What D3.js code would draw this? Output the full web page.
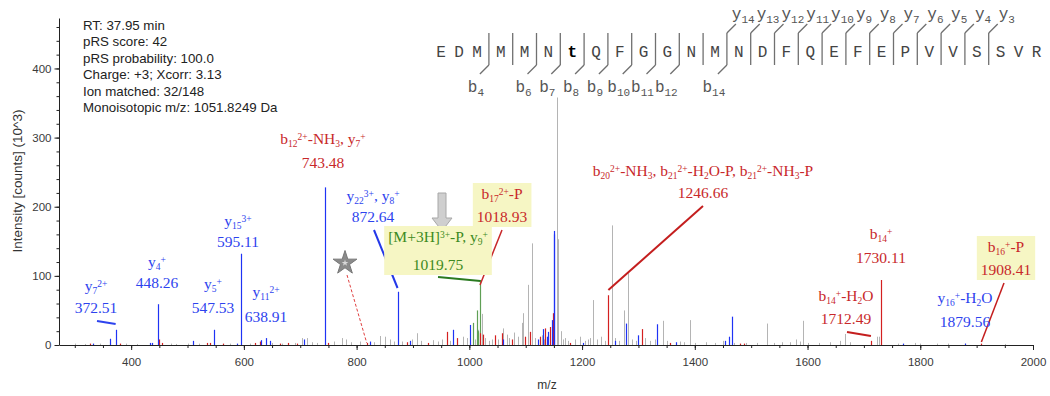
<!DOCTYPE html>
<html>
<head>
<meta charset="UTF-8">
<style>
  body { margin: 0; background: #fff; }
  svg { display: block; font-family: "Liberation Sans", Arial, sans-serif; }
  .ann { font-family: "Liberation Serif", "Times New Roman", serif; font-size: 15.5px; }
  .seq { font-family: "Liberation Mono", "Courier New", monospace; }
  .tick text { fill: #3a3a3a; font-size: 11.5px; font-family: "Liberation Sans", Arial, sans-serif; }
</style>
</head>
<body>
<svg></svg>
<script src="https://d3js.org/d3.v7.min.js"></script>
<script>

let width = 1050, height = 396;

// ---- data ----
const infoLines = ["RT: 37.95 min", "pRS score: 42", "pRS probability: 100.0",
  "Charge: +3; Xcorr: 3.13", "Ion matched: 32/148", "Monoisotopic m/z: 1051.8249 Da"];

const seqLetters = "EDMMMNtQFGGNMNDFQEFEPVVSSVR".split("");
const barsAfter = d3.range(3, 25);          // fragment markers after residue n
const bIons = [4, 6, 7, 8, 9, 10, 11, 12, 14];
const yIons = [14, 13, 12, 11, 10, 9, 8, 7, 6, 5, 4, 3];

// [m/z, intensity (10^3)]
const grayPeaks = [[300,2],[318,1.5],[345,2],[390,2],[410,1.5],[470,2],[480,1.5],[500,2],[520,2],[575,2],
  [610,2],[650,3],[668,2],[690,3],[702.5,10],[711.4,10],[720,4],[730,3],[744,84],[749,3],[760,5],[773.5,10],
  [782,8],[790,4],[806,5],[830,4],[841.5,13],[850,12],[859,8],[866,5],[874,30],[880,5],[897.7,8],[906.6,17],
  [915,6],[935.5,7],[945,5],[952,8],[966,6],[988.7,12],[996,10],[1001,25],[1010,8],[1016,22],[1022,45],
  [1027,10],[1035,6],[1039.6,8],[1045,12],[1050,8],[1060,24],[1066,15],[1070,10],[1080,18],[1086,12],
  [1092.8,32],[1095.7,46],[1104,87],[1111.6,147],[1116,10],[1128.3,14],[1133,8],[1155,358],[1157.8,153],
  [1162,20],[1166,8],[1169.6,10],[1175,6],[1187.4,8],[1196.3,12],[1205,6],[1210,8],[1214,10],[1219.9,65],
  [1226,8],[1233.5,12],[1240,6],[1252.5,173],[1258,10],[1265,6],[1274.3,50],[1281.4,104],[1288,8],[1295,6],
  [1312,10],[1320,6],[1329,8],[1343.5,35],[1350,6],[1373.7,5],[1380,4],[1391.4,36],[1400,3],[1420,4],
  [1435,3],[1450,6],[1470,3],[1490,3],[1510,3],[1528,31],[1540,3],[1555,4],[1568,4],[1580,8],[1586,5],
  [1592,35],[1600,3],[1620,3],[1640,4],[1657,6],[1666,16],[1675,4],[1722.6,12],[1726.7,12],[1760,2],
  [1790,3],[1800,2],[1830,2],[1850,2],[1880,2],[1950,1.5]];

const bluePeaks = [[332,2],[362.5,9],[372.51,22],[433,3],[436.5,3],[448.26,59],[510,6],[547.53,22],[587,2],
  [595.11,132],[629.8,7],[638.91,10],[646,6],[706.6,8],[743.48,228],[823.7,5],[872.64,77],[894.7,6],
  [971,22],[1001.1,29],[1060,8],[1121.7,8],[1131.2,23],[1137.2,12],[1139.5,19],[1146,36],[1149.4,160],
  [1150.1,165],[1201.6,3],[1258.3,6],[1277.3,31],[1299.1,14],[1332.9,30],[1366.6,4],[1453.5,6],[1460.6,12],
  [1465.4,41],[1769,2],[1879.56,2]];

const redPeaks = [[327,2],[380,2],[450,8],[454,3],[534,3],[540,3],[563,2],[619.7,3],[628.6,5],[664,2],
  [678,3],[693.7,2],[749.2,3],[818,3],[888.8,4],[926.6,3],[959.8,19],[977.6,10],[1018.93,17],[1024.7,15],
  [1045,14],[1057.3,17],[1075.1,8],[1098.7,12],[1107,19],[1125.3,12],[1134.2,24],[1143,26],[1147.8,46],
  [1178.5,3],[1246.66,72],[1305.7,23],[1356,3],[1480,2],[1488,2],[1712.49,6],[1730.11,94],[1908.41,2]];

const greenPeaks = [[1006.4,32],[1013,50],[1016,20],[1019.75,94]];

// annotated ions
const annIons = ["y_{7}^{2+}", "y_{4}^{+}", "y_{5}^{+}", "y_{15}^{3+}", "y_{11}^{2+}",
  "b_{12}^{2+}-NH_{3}, y_{7}^{+}", "y_{22}^{3+}, y_{8}^{+}", "[M+3H]^{3+}-P, y_{9}^{+}", "b_{17}^{2+}-P",
  "b_{20}^{2+}-NH_{3}, b_{21}^{2+}-H_{2}O-P, b_{21}^{2+}-NH_{3}-P", "b_{14}^{+}", "b_{14}^{+}-H_{2}O",
  "y_{16}^{+}-H_{2}O", "b_{16}^{+}-P"];
const annMz = ["372.51", "448.26", "547.53", "595.11", "638.91", "743.48", "872.64", "1019.75", "1018.93",
  "1246.66", "1730.11", "1712.49", "1879.56", "1908.41"];
const annType = ["y", "y", "y", "y", "y", "b", "y", "p", "b", "b", "b", "b", "y", "b"];

// ---- layout ----
const annLayout = [[96,287,308],[157,263,283],[213,285,308],[238,222,242],[266,293,317],[323,140,163],
  [373,197,217],[438,238,265,1],[502,195,217,1],[703,172,193],[881,235,258],[846,297,319],[965,299,322],
  [1006,248,270,1]];
const typeColor = { y: "#2d43ee", b: "#c8282a", p: "#3d8a22" };

let svg = d3.select("svg").attr("width", width).attr("height", height);

let x = d3.scaleLinear().domain([272, 2000]).range([59, 1033]);
let y = d3.scaleLinear().domain([0, 473]).range([345, 18]);

// info block
svg.append("g").selectAll("text").data(infoLines).join("text")
  .attr("x", 83).attr("y", (d, i) => 29.5 + i * 16.5)
  .attr("font-size", 13.3).attr("fill", "#222").text(d => d);

// axes
svg.append("g").attr("transform", "translate(0,345)")
  .call(d3.axisBottom(x).tickValues(d3.range(300, 2001, 50)).tickSize(3).tickFormat(""))
  .call(g => g.select(".domain").remove());
svg.append("g").attr("transform", "translate(0,345)")
  .call(d3.axisBottom(x).tickValues(d3.range(400, 2001, 200)).tickSize(5).tickSizeOuter(0)
    .tickPadding(8).tickFormat(d3.format("d")));
svg.append("g").attr("transform", "translate(59,0)")
  .call(d3.axisLeft(y).tickValues(d3.range(0, 461, 20)).tickSize(2.5).tickFormat(""))
  .call(g => g.select(".domain").remove());
svg.append("g").attr("transform", "translate(59,0)")
  .call(d3.axisLeft(y).tickValues(d3.range(0, 401, 100)).tickSize(4.5).tickSizeOuter(0).tickPadding(3));
svg.selectAll(".domain, .tick line").attr("stroke", "#222");

svg.append("text").attr("x", 547).attr("y", 389).attr("text-anchor", "middle")
  .attr("font-size", 12).attr("fill", "#333").text("m/z");
svg.append("text").attr("transform", "translate(22,181) rotate(-90)").attr("text-anchor", "middle")
  .attr("font-size", 13.5).attr("fill", "#333").text("Intensity [counts] (10^3)");

// peaks
function drawPeaks(data, color, w) {
  svg.append("g").selectAll("line").data(data).join("line")
    .attr("x1", d => Math.round(x(d[0])) + 0.5).attr("x2", d => Math.round(x(d[0])) + 0.5)
    .attr("y1", y(0)).attr("y2", d => y(d[1]))
    .attr("stroke", color).attr("stroke-width", w);
}
drawPeaks(grayPeaks, "#b4b4b4", 1);
drawPeaks(greenPeaks, "#5f9f55", 1.2);
drawPeaks(redPeaks, "#d42020", 1.2);
drawPeaks(bluePeaks, "#1f33f5", 1.2);

// leader lines: start in px, end at peak m/z
const leaders = [
  { from: [97, 321], mz: 372.51, to: 324, c: typeColor.y, w: 2 },
  { from: [374, 230], mz: 872.64, to: 288, c: "#2438e8", w: 2 },
  { from: [502, 230], mz: 1018.93, to: 285, c: typeColor.b, w: 1.5 },
  { from: [347, 275], mz: 818, to: 343, c: "#e04040", w: 1, dash: "3,2" },
  { from: [703, 206], mz: 1246.66, to: 290, c: "#c41e1e", w: 2 },
  { from: [847, 332], mz: 1712.49, to: 336, c: "#c41e1e", w: 2 },
  { from: [1004, 283], mz: 1908.41, to: 342, c: "#c41e1e", w: 1.5 }
];
svg.append("g").selectAll("line").data(leaders).join("line")
  .attr("x1", d => d.from[0]).attr("y1", d => d.from[1])
  .attr("x2", d => x(d.mz)).attr("y2", d => d.to)
  .attr("stroke", d => d.c).attr("stroke-width", d => d.w)
  .attr("stroke-dasharray", d => d.dash || null);

// star marker
svg.append("path").attr("d", d3.symbol(d3.symbolStar, 175)())
  .attr("transform", "translate(345,263)").attr("fill", "#8a8a8a").attr("stroke", "#777");
svg.append("path").attr("d", d3.symbol(d3.symbolStar, 14)())
  .attr("transform", "translate(345,263)").attr("fill", "#d8d8d8");

// down arrow
svg.append("path").attr("d", "M438,193 L446,193 L446,218 L452,218 L442,231 L432,218 L438,218 Z")
  .attr("fill", "#cfcfcf").attr("stroke", "#a8a8a8");

// rich text: _{sub} ^{sup}
function rich(t, str, small, sub, sup) {
  let off = 0;
  str.split(/(_\{[^}]*\}|\^\{[^}]*\})/).filter(s => s).forEach(s => {
    let target = 0, txt = s, fs = null;
    if (s.startsWith("_{")) { target = sub; txt = s.slice(2, -1); fs = small; }
    else if (s.startsWith("^{")) { target = -sup; txt = s.slice(2, -1); fs = small; }
    let ts = t.append("tspan").attr("dy", target - off).text(txt);
    if (fs) ts.attr("font-size", fs);
    off = target;
  });
}

// annotation labels
let annG = svg.append("g");
annIons.forEach((ion, i) => {
  let L = annLayout[i], col = typeColor[annType[i]];
  let g = annG.append("g").attr("class", "ann").attr("fill", col).attr("text-anchor", "middle");
  let t1 = g.append("text").attr("x", L[0]).attr("y", L[1] + 4);
  rich(t1, ion, 9.5, 3, 4);
  g.append("text").attr("x", L[0]).attr("y", L[2] + 5).text(annMz[i]);
  if (L[3]) {
    let bb = g.node().getBBox();
    g.insert("rect", "text").attr("x", bb.x - 4).attr("y", bb.y - 2)
      .attr("width", bb.width + 8).attr("height", bb.height + 4).attr("fill", "#f6f6c4");
  }
});
// green leader sits on top of the precursor box
svg.append("line").attr("x1", 438).attr("y1", 277).attr("x2", x(1019.75)).attr("y2", 281)
  .attr("stroke", "#2a7a20").attr("stroke-width", 2);

// ---- peptide sequence ----
let seqG = svg.append("g").attr("class", "seq");
let lx = [441];
for (let i = 1; i < seqLetters.length; i++) lx.push(lx[i - 1] + (barsAfter.includes(i) ? 23.8 : 18));
const barX = k => (lx[k - 1] + lx[k]) / 2;

seqG.selectAll("text.res").data(seqLetters).join("text").attr("class", "res")
  .attr("x", (d, i) => lx[i]).attr("y", 57).attr("text-anchor", "middle")
  .attr("font-size", 16).attr("fill", d => d === "t" ? "#000" : "#444")
  .attr("font-weight", d => d === "t" ? "bold" : null).text(d => d);

seqG.selectAll("line.bar").data(barsAfter).join("line").attr("class", "bar")
  .attr("x1", k => barX(k)).attr("x2", k => barX(k)).attr("y1", 33).attr("y2", 65)
  .attr("stroke", "#707070").attr("stroke-width", 1.3);

seqG.selectAll("line.bt").data(bIons).join("line").attr("class", "bt")
  .attr("x1", n => barX(n - 1)).attr("y1", 65).attr("x2", n => barX(n - 1) - 9).attr("y2", 74)
  .attr("stroke", "#707070").attr("stroke-width", 1.3);
seqG.selectAll("line.yt").data(yIons).join("line").attr("class", "yt")
  .attr("x1", n => barX(seqLetters.length - n)).attr("y1", 33)
  .attr("x2", n => barX(seqLetters.length - n) + 9).attr("y2", 24)
  .attr("stroke", "#707070").attr("stroke-width", 1.3);

// b labels, spread left to right
let prevEnd = -1e9;
bIons.forEach(n => {
  let t = seqG.append("text").attr("y", 92).attr("font-size", 16).attr("fill", "#555");
  rich(t, "b_{" + n + "}", 11, 3.5, 5);
  let w = t.node().getComputedTextLength();
  let start = Math.max(barX(n - 1) - 13 - w / 2, prevEnd + 1);
  t.attr("x", start);
  prevEnd = start + w;
});
// y labels, spread right to left
let nextStart = 1e9;
yIons.slice().reverse().forEach(n => {
  let t = seqG.append("text").attr("y", 19).attr("font-size", 16).attr("fill", "#555");
  rich(t, "y_{" + n + "}", 11, 3.5, 5);
  let w = t.node().getComputedTextLength();
  let start = Math.min(barX(seqLetters.length - n) + 10, nextStart - 2 - w);
  t.attr("x", start);
  nextStart = start;
});
</script>
</body>
</html>
